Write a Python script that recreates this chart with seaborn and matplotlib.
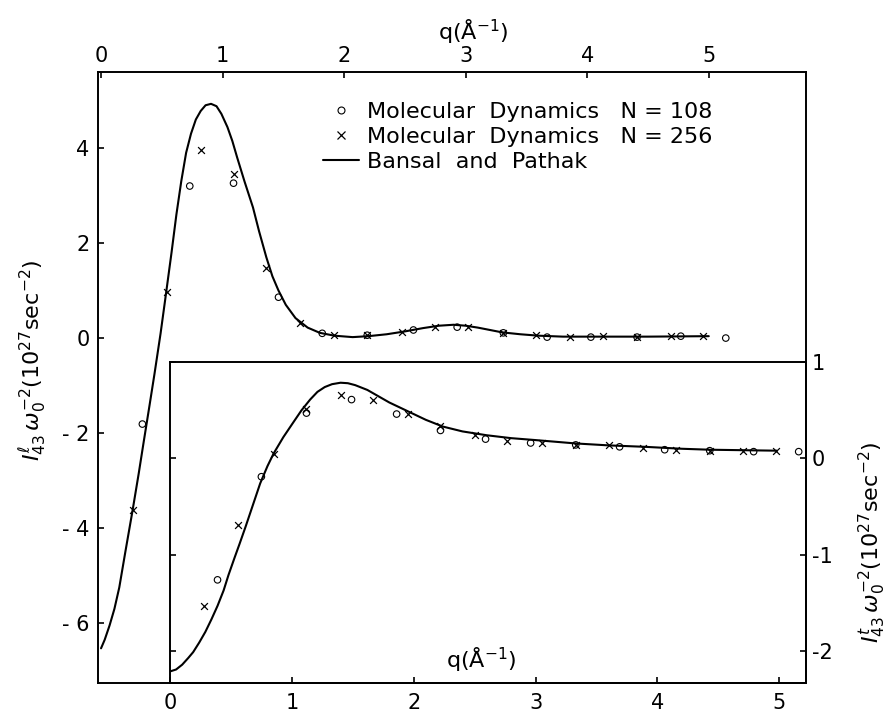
import numpy as np
import pandas as pd
import matplotlib
matplotlib.use("Agg")
import matplotlib.pyplot as plt
import seaborn as sns
from matplotlib.lines import Line2D

# longitudinal I43 (outer frame: top q axis, left y axis)
q_l_curve = [0.0, 0.03, 0.07, 0.11, 0.15, 0.20, 0.26, 0.31, 0.35, 0.40, 0.44, 0.49,
             0.53, 0.58, 0.62, 0.66, 0.70, 0.74, 0.78, 0.82, 0.86, 0.905, 0.95, 0.99,
             1.04, 1.08, 1.12, 1.18, 1.25, 1.30, 1.36, 1.41, 1.46, 1.52, 1.60, 1.70,
             1.80, 1.92, 2.07, 2.2, 2.35, 2.5, 2.65, 2.78, 2.9, 3.0, 3.1, 3.2,
             3.3, 3.45, 3.6, 3.8, 4.0, 4.5, 5.0]
i_l_curve = [-6.53, -6.35, -6.05, -5.7, -5.25, -4.5, -3.62, -2.85, -2.2, -1.4, -0.75, 0.1,
             0.85, 1.8, 2.6, 3.3, 3.9, 4.3, 4.6, 4.78, 4.9, 4.93, 4.88, 4.72,
             4.44, 4.15, 3.8, 3.3, 2.75, 2.25, 1.7, 1.3, 1.0, 0.7, 0.42, 0.22,
             0.11, 0.05, 0.02, 0.04, 0.08, 0.14, 0.21, 0.26, 0.28, 0.26, 0.22, 0.17,
             0.12, 0.08, 0.05, 0.03, 0.03, 0.03, 0.04]
q_l_108 = [0.34, 0.73, 1.09, 1.46, 1.82, 2.19, 2.57, 2.93, 3.31, 3.67, 4.03, 4.41, 4.77, 5.14]
i_l_108 = [-1.81, 3.2, 3.26, 0.86, 0.10, 0.06, 0.17, 0.23, 0.11, 0.02, 0.02, 0.02, 0.04, 0.0]
q_l_256 = [0.26, 0.54, 0.82, 1.09, 1.36, 1.64, 1.92, 2.19, 2.48, 2.75, 3.02, 3.31,
           3.58, 3.86, 4.13, 4.41, 4.69, 4.95]
i_l_256 = [-3.62, 0.97, 3.96, 3.45, 1.47, 0.32, 0.06, 0.06, 0.13, 0.23, 0.23, 0.11,
           0.06, 0.02, 0.04, 0.02, 0.04, 0.04]

# transverse I43 (inset: bottom q axis, right y axis)
q_t_curve = [0.0, 0.05, 0.1, 0.15, 0.19, 0.24, 0.29, 0.34, 0.39, 0.44, 0.48, 0.53,
             0.57, 0.62, 0.66, 0.70, 0.74, 0.80, 0.85, 0.93, 1.01, 1.08, 1.15, 1.21,
             1.27, 1.33, 1.40, 1.46, 1.52, 1.62, 1.71, 1.80, 1.95, 2.1, 2.24, 2.4,
             2.6, 2.8, 3.0, 3.33, 3.6, 3.9, 4.2, 4.43, 4.98]
i_t_curve = [-2.21, -2.19, -2.14, -2.07, -2.01, -1.91, -1.80, -1.67, -1.53, -1.37, -1.21, -1.03,
             -0.89, -0.71, -0.56, -0.41, -0.26, -0.08, 0.05, 0.22, 0.37, 0.50, 0.61, 0.69,
             0.74, 0.77, 0.785, 0.78, 0.76, 0.71, 0.645, 0.58, 0.49, 0.40, 0.33, 0.28,
             0.24, 0.21, 0.19, 0.155, 0.135, 0.12, 0.10, 0.09, 0.08]
q_t_108 = [0.39, 0.75, 1.12, 1.49, 1.86, 2.22, 2.59, 2.96, 3.33, 3.69, 4.06, 4.43, 4.79, 5.16]
i_t_108 = [-1.26, -0.19, 0.47, 0.61, 0.46, 0.29, 0.20, 0.16, 0.14, 0.12, 0.09, 0.08, 0.07, 0.07]
q_t_256 = [0.28, 0.56, 0.85, 1.12, 1.40, 1.67, 1.95, 2.22, 2.50, 2.77, 3.05, 3.33,
           3.60, 3.88, 4.15, 4.43, 4.70, 4.97]
i_t_256 = [-1.53, -0.69, 0.05, 0.51, 0.66, 0.61, 0.46, 0.34, 0.24, 0.18, 0.16, 0.14,
           0.14, 0.11, 0.09, 0.08, 0.08, 0.08]

legend_labels = ["Molecular  Dynamics   N = 108",
                 "Molecular  Dynamics   N = 256",
                 "Bansal  and  Pathak"]

sns.set_style("ticks")
plt.rcParams["font.family"] = ["DejaVu Sans"]
plt.rcParams["axes.linewidth"] = 1.4
for key in ["text.color", "axes.edgecolor", "axes.labelcolor", "xtick.color", "ytick.color"]:
    plt.rcParams[key] = "black"

W, H = 888, 711
fig = plt.figure(figsize=(W / 100, H / 100), dpi=100)

def box(l, r, t, b):
    return [l / W, 1 - b / H, (r - l) / W, (b - t) / H]

ax = fig.add_axes(box(98, 806, 72, 683))
axin = fig.add_axes(box(170, 806, 362, 683))
axin.patch.set_alpha(0)

def draw(a, qc, ic, q1, i1, q2, i2):
    sns.lineplot(x=qc, y=ic, ax=a, color="black", linewidth=1.5, sort=False, estimator=None)
    sns.scatterplot(x=q1, y=i1, ax=a, marker="o", s=22, facecolors="none",
                    edgecolor="black", linewidth=0.8)
    sns.scatterplot(x=q2, y=i2, ax=a, marker="x", s=24, color="black", linewidth=0.9)

draw(ax, q_l_curve, i_l_curve, q_l_108, i_l_108, q_l_256, i_l_256)
draw(axin, q_t_curve, i_t_curve, q_t_108, i_t_108, q_t_256, i_t_256)

# outer frame
ax.set_xlim(-0.025, 5.80)
ax.set_ylim(-7.26, 5.6)
ax.xaxis.tick_top()
ax.set_xticks([0, 1, 2, 3, 4, 5])
ax.set_xticklabels(["0", "1", "2", "3", "4", "5"])
ax.set_yticks([-6, -4, -2, 0, 2, 4])
ax.set_yticklabels(["- 6", "- 4", "- 2", "0", "2", "4"])
ax.tick_params(axis="x", top=True, bottom=False, labeltop=True, labelbottom=False,
               direction="in", length=4, width=1.2, labelsize=15, pad=4)
ax.tick_params(axis="y", left=True, right=False, direction="in", length=4, width=1.2,
               labelsize=15, pad=6)
ax.set_xlabel("")
ax.set_ylabel("")

# inset frame
axin.set_xlim(0, 5.22)
axin.set_ylim(-2.33, 1.0)
axin.set_xticks([0, 1, 2, 3, 4, 5])
axin.set_xticklabels(["0", "1", "2", "3", "4", "5"])
axin.set_yticks([-2, -1, 0, 1])
axin.set_yticklabels(["-2", "-1", "0", "1"])
axin.tick_params(axis="x", bottom=True, top=False, direction="in", length=4, width=1.2,
                 labelsize=15, pad=7)
axin.tick_params(axis="y", left=True, right=True, labelleft=False, labelright=True,
                 direction="in", length=4, width=1.2, labelsize=15, pad=4)
axin.set_xlabel("")
axin.set_ylabel("")

fig.text(473 / W, 1 - 32 / H, "q(Å$^{-1}$)", ha="center", va="center", fontsize=16)
fig.text(481 / W, 1 - 660 / H, "q(Å$^{-1}$)", ha="center", va="center", fontsize=16)
fig.text(33 / W, 1 - 360 / H, r"$I^{\ell}_{43}\,\omega_0^{-2}(10^{27}\mathrm{sec}^{-2})$",
         rotation=90, ha="center", va="center", fontsize=16)
fig.text(872 / W, 1 - 542 / H, r"$I^{t}_{43}\,\omega_0^{-2}(10^{27}\mathrm{sec}^{-2})$",
         rotation=90, ha="center", va="center", fontsize=16)

handles = [Line2D([], [], marker="o", ls="none", mfc="none", mec="black", ms=5, mew=0.8),
           Line2D([], [], marker="x", ls="none", color="black", ms=5.5, mew=0.9),
           Line2D([], [], color="black", lw=1.5)]
fig.legend(handles, legend_labels, loc="upper left", bbox_to_anchor=(323 / W, 1 - 102 / H),
           frameon=False, fontsize=16, handlelength=1.6, handletextpad=0.4,
           labelspacing=0.22, borderpad=0, borderaxespad=0)

fig.savefig("out.png", dpi=100)
